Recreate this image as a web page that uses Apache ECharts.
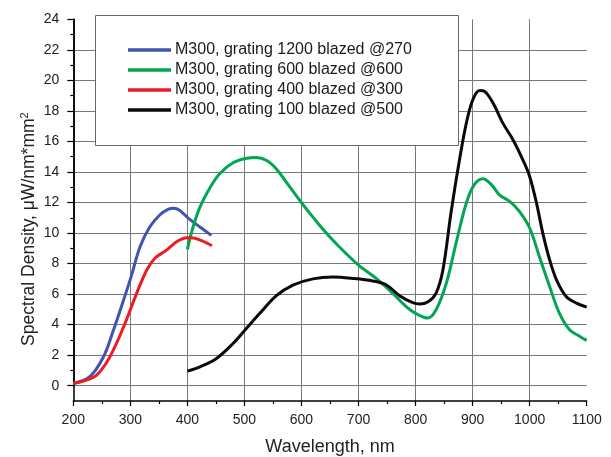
<!DOCTYPE html>
<html><head><meta charset="utf-8">
<script src="https://cdn.jsdelivr.net/npm/echarts@6/dist/echarts.min.js"></script>
<style>html,body{margin:0;padding:0;background:#fff}#c{width:611px;height:457px}</style>
</head><body><div id="c"></div>
<script>
const seriesNames = [
  'M300, grating 1200 blazed @270',
  'M300, grating 600 blazed @600',
  'M300, grating 400 blazed @300',
  'M300, grating 100 blazed @500'
];
const seriesColors = ['#4055ad', '#00a651', '#ed1c24', '#0a0a0a'];

const blueX = [200, 229, 253, 270, 288, 301, 317, 334, 352, 366, 376, 386, 402, 422, 442];
const blueY = [0.15, 0.6, 1.9, 3.6, 5.6, 7.1, 9.1, 10.4, 11.2, 11.55, 11.62, 11.5, 10.96, 10.4, 9.85];

const greenX = [400, 410, 422, 440, 457, 480, 504, 521, 539, 556, 574, 601, 632, 661, 700, 731, 760, 784, 800, 821, 836, 854, 871, 889, 903, 918, 933, 947, 965, 982, 1000, 1017, 1035, 1052, 1070, 1088, 1100];
const greenY = [8.93, 10.4, 11.7, 13.0, 13.9, 14.6, 14.9, 14.95, 14.75, 14.2, 13.3, 11.94, 10.5, 9.3, 7.9, 7.03, 6.05, 5.17, 4.74, 4.43, 4.98, 6.72, 9.34, 11.97, 13.17, 13.56, 13.17, 12.5, 12.07, 11.42, 10.33, 8.47, 6.5, 4.76, 3.67, 3.23, 2.97];

const redX = [200, 223, 241, 258, 276, 293, 311, 329, 343, 364, 381, 399, 407, 425, 443];
const redY = [0.15, 0.37, 0.7, 1.5, 2.8, 4.3, 6.05, 7.6, 8.35, 8.9, 9.43, 9.7, 9.7, 9.5, 9.17];

const blackX = [400, 422, 451, 480, 501, 527, 556, 585, 620, 655, 690, 725, 749, 772, 795, 807, 822, 836, 848, 862, 877, 889, 900, 912, 921, 936, 953, 971, 988, 1000, 1012, 1023, 1035, 1047, 1064, 1082, 1100];
const blackY = [0.96, 1.24, 1.79, 2.77, 3.65, 4.74, 5.9, 6.59, 7.0, 7.12, 7.03, 6.86, 6.6, 5.9, 5.44, 5.35, 5.5, 6.07, 7.6, 11.3, 14.8, 17.2, 18.7, 19.34, 19.28, 18.5, 17.2, 16.1, 14.8, 13.7, 11.96, 10.0, 8.25, 6.94, 5.85, 5.41, 5.15];

const xMin = 200, xMax = 1100, xStep = 100;
const yMin = -1, yMax = 24, yStep = 2;

const allX = [blueX, greenX, redX, blackX];
const allY = [blueY, greenY, redY, blackY];

const font = 'Liberation Sans, Arial, sans-serif';
const chart = echarts.init(document.getElementById('c'));
const gridL = 73.3, gridR = 24.3, gridT = 19.3;
const gridColor = '#777';

chart.setOption({
  animation: false,
  backgroundColor: '#fff',
  grid: [
    {left: gridL, right: gridR, top: gridT, bottom: 56, containLabel: false, outerBoundsMode: 'none'},
    {left: gridL, right: gridR, top: gridT, bottom: 71.3, containLabel: false, outerBoundsMode: 'none'}
  ],
  graphic: [{
    type: 'rect', z: 50, left: 95, top: 15,
    shape: {width: 363, height: 130},
    style: {fill: '#fff', stroke: '#666', lineWidth: 1}
  }],
  legend: {
    z: 60, orient: 'vertical', left: 128, top: 42, padding: 0,
    itemGap: 4, itemWidth: 43, itemHeight: 3.5, icon: 'rect',
    textStyle: {fontSize: 16, lineHeight: 16, color: '#1a1a1a', fontFamily: font, padding: [0,0,0,-1]},
    data: seriesNames
  },
  xAxis: [{
    gridIndex: 0, type: 'value', min: xMin, max: xMax, interval: xStep,
    name: 'Wavelength, nm', nameLocation: 'middle', nameGap: 37,
    nameTextStyle: {fontSize: 18, color: '#222', fontFamily: font},
    axisLine: {onZero: false, lineStyle: {color: '#000', width: 1.5}},
    axisTick: {length: 5, lineStyle: {color: '#000', width: 1.2}},
    minorTick: {show: true, splitNumber: 2, length: 3, lineStyle: {color: '#000', width: 1.2}},
    axisLabel: {fontSize: 14, color: '#222', margin: 12, fontFamily: font, formatter: v => String(v)},
    splitLine: {show: true, showMinLine: false, showMaxLine: false, lineStyle: {color: gridColor, width: 1}}
  }, {
    gridIndex: 1, type: 'value', min: xMin, max: xMax, interval: xStep, show: false
  }],
  yAxis: [{
    gridIndex: 0, type: 'value', min: yMin, max: yMax, interval: 1,
    name: '{a|Spectral Density, μW/nm*mm}{b|2}', nameLocation: 'middle', nameGap: 34,
    nameTextStyle: {
      color: '#222', fontFamily: font, padding: [0, 38, 0, 0],
      rich: {
        a: {fontSize: 17.5, lineHeight: 20, color: '#222', fontFamily: font},
        b: {fontSize: 11, lineHeight: 11, verticalAlign: 'top', color: '#222', fontFamily: font}
      }
    },
    axisLine: {show: true, onZero: false, lineStyle: {color: '#000', width: 1.5}},
    axisTick: {show: false}, axisLabel: {show: false}, splitLine: {show: false}
  }, {
    gridIndex: 1, type: 'value', min: 0, max: yMax, interval: yStep,
    axisLine: {show: true, onZero: false, lineStyle: {color: '#000', width: 1.5}},
    axisTick: {show: true, length: 6, lineStyle: {color: '#000', width: 1.2}},
    minorTick: {show: true, splitNumber: 2, length: 3, lineStyle: {color: '#000', width: 1.2}},
    axisLabel: {fontSize: 14, color: '#222', margin: 14, fontFamily: font},
    splitLine: {show: true, showMinLine: true, showMaxLine: false, lineStyle: {color: gridColor, width: 1}}
  }],
  series: seriesNames.map((n, i) => ({
    name: n, type: 'line', xAxisIndex: 0, yAxisIndex: 0,
    data: allX[i].map((x, j) => [x, allY[i][j]]),
    showSymbol: false, symbol: 'none', smooth: 0.35,
    lineStyle: {color: seriesColors[i], width: 3},
    itemStyle: {color: seriesColors[i]},
    z: 5 + i
  }))
});
</script></body></html>
